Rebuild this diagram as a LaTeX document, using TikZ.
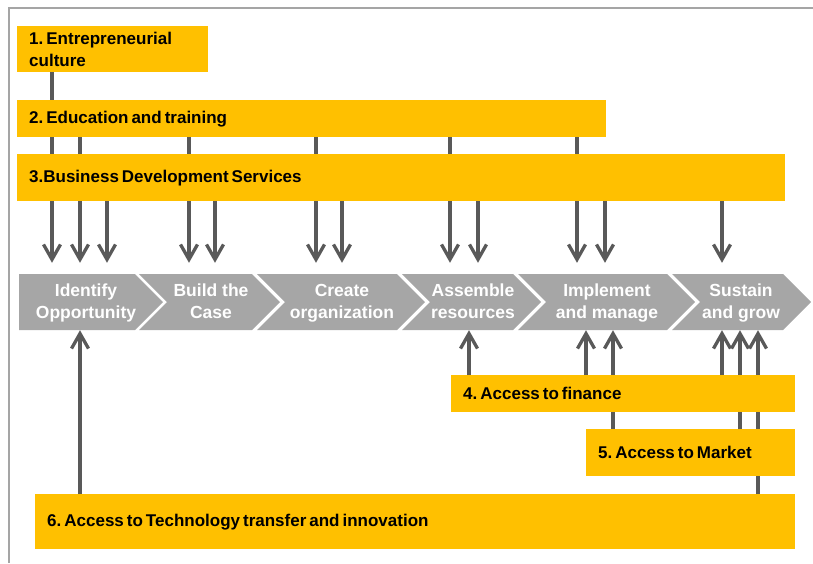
\documentclass[tikz,border=0pt]{standalone}
\usepackage{fontspec}
\setmainfont{Liberation Sans}
\frenchspacing
\usetikzlibrary{arrows.meta}

\definecolor{barorange}{HTML}{FFC000}
\definecolor{phasegray}{HTML}{A6A6A6}
\definecolor{arrowgray}{HTML}{595959}
\definecolor{framegray}{HTML}{A5A5A5}

\begin{document}
\begin{tikzpicture}[x=1pt, y=-1pt,
	bar/.style={fill=barorange, anchor=north west, inner xsep=12pt, inner ysep=0pt, align=left, font=\fontsize{17}{22}\selectfont\bfseries, execute at begin node={\spaceskip=3pt\relax}},
	phase/.style={minimum height=56pt, inner sep=0pt, text height=36pt, text depth=4pt, align=center, text=white, font=\fontsize{17.5}{22}\selectfont\bfseries},
	feed/.style={draw=arrowgray, line width=3.3pt, arrows={-Straight Barb[length=15pt,width=17pt]}},
	down/.style={feed, shorten >=11pt}]

	\useasboundingbox (0,0) rectangle (813,563);
	\draw [framegray, line width=1.2pt] (9,563) -- (9,8) -- (813,8);

	% the six phases
	\fill [phasegray] (19,274) -- (135,274) -- (163,302) -- (135,330) -- (19,330) -- cycle;
	\fill [phasegray] (139,274) -- (252,274) -- (280,302) -- (252,330) -- (139,330) -- (167,302) -- cycle;
	\fill [phasegray] (257,274) -- (397,274) -- (425,302) -- (397,330) -- (257,330) -- (285,302) -- cycle;
	\fill [phasegray] (402,274) -- (513,274) -- (541,302) -- (513,330) -- (402,330) -- (430,302) -- cycle;
	\fill [phasegray] (518,274) -- (667,274) -- (695,302) -- (667,330) -- (518,330) -- (546,302) -- cycle;
	\fill [phasegray] (672,274) -- (783,274) -- (811,302) -- (783,330) -- (672,330) -- (700,302) -- cycle;

	\node [phase] (idea) at (86,302) {Identify\\Opportunity};
	\node [phase] (case) at (211,302) {Build the\\Case};
	\node [phase] (org) at (342,302) {Create\\organization};
	\node [phase] (res) at (473,302) {Assemble\\resources};
	\node [phase] (impl) at (607,302) {Implement\\and manage};
	\node [phase] (grow) at (741,302) {Sustain\\and grow};

	% support from above
	\node [bar, text width=167pt, minimum height=46pt] (culture) at (17,26) {1. Entrepreneurial\\culture};
	\draw [down] (52,0 |- culture.south) -- (52,0 |- idea.north);

	\node [bar, text width=565pt, minimum height=37pt] (edu) at (17,100) {2. Education and training};
	\draw [down] (80,0 |- edu.south) -- (80,0 |- idea.north);
	\draw [down] (189,0 |- edu.south) -- (189,0 |- case.north);
	\draw [down] (316,0 |- edu.south) -- (316,0 |- org.north);
	\draw [down] (450,0 |- edu.south) -- (450,0 |- res.north);
	\draw [down] (577,0 |- edu.south) -- (577,0 |- impl.north);

	\node [bar, text width=744pt, minimum height=47pt] (bds) at (17,154) {3.Business Development Services};
	\draw [down] (107,0 |- bds.south) -- (107,0 |- idea.north);
	\draw [down] (215,0 |- bds.south) -- (215,0 |- case.north);
	\draw [down] (342,0 |- bds.south) -- (342,0 |- org.north);
	\draw [down] (478,0 |- bds.south) -- (478,0 |- res.north);
	\draw [down] (605,0 |- bds.south) -- (605,0 |- impl.north);
	\draw [down] (722,0 |- bds.south) -- (722,0 |- grow.north);

	% support from below
	\node [bar, text width=736pt, minimum height=55pt] (tech) at (35,494) {6. Access to Technology transfer and innovation};
	\draw [feed] (80,0 |- tech.north) -- (80,0 |- idea.south);
	\draw [feed] (758,0 |- tech.north) -- (758,0 |- grow.south);

	\node [bar, text width=185pt, minimum height=47pt] (market) at (586,429) {5. Access to Market};
	\draw [feed] (613,0 |- market.north) -- (613,0 |- impl.south);
	\draw [feed] (740,0 |- market.north) -- (740,0 |- grow.south);

	\node [bar, text width=320pt, minimum height=37pt] (finance) at (451,375) {4. Access to finance};
	\draw [feed] (469,0 |- finance.north) -- (469,0 |- res.south);
	\draw [feed] (586,0 |- finance.north) -- (586,0 |- impl.south);
	\draw [feed] (722,0 |- finance.north) -- (722,0 |- grow.south);

\end{tikzpicture}
\end{document}
